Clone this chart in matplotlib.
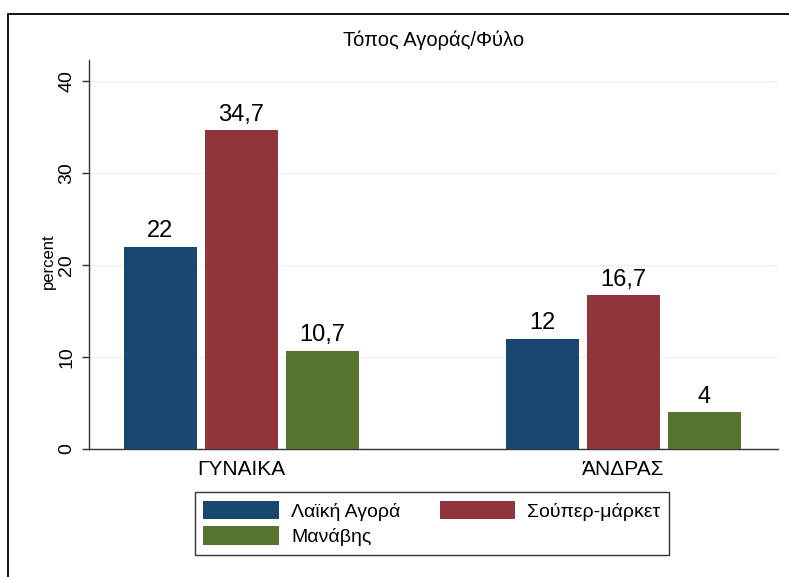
import matplotlib.pyplot as plt
from matplotlib.patches import Rectangle
import numpy as np

plt.rcParams['font.family'] = ['Liberation Sans', 'DejaVu Sans']

groups = ['ΓΥΝΑΙΚΑ', 'ΆΝΔΡΑΣ']
series = ['Λαϊκή Αγορά', 'Σούπερ-μάρκετ', 'Μανάβης']
values = [[22, 12], [34.7, 16.7], [10.7, 4]]
colors = ['#1a476f', '#90353b', '#55752f']
yticks = [0, 10, 20, 30, 40]

fig = plt.figure(figsize=(7.89, 5.77), dpi=100)
ax = fig.add_axes([89 / 789, 1 - 449 / 577, (778 - 89) / 789, (449 - 60) / 577])

# outer frame like stata graph region
fig.patches.append(Rectangle((8 / 789, -0.5), 2, 1.5 - 14 / 577, transform=fig.transFigure,
                             fill=False, edgecolor='black', linewidth=1.3))

x = np.arange(len(groups))
pitch = 81 / 382
width = 73 / 382
handles = []
for i, (name, vals) in enumerate(zip(series, values)):
    pos = x + (i - 1) * pitch
    h = ax.bar(pos, vals, width=width, color=colors[i], label=name, zorder=3)
    handles.append(h)
    for p, v in zip(pos, vals):
        lab = f'{v:g}'.replace('.', ',')
        ax.annotate(lab, (p, v), xytext=(0, 3), textcoords='offset points',
                    ha='center', va='bottom', fontsize=17)

ax.set_xlim((89 - 241.5) / 382, (778 - 241.5) / 382)
ax.set_ylim(0, (449 - 60) / 9.2)
ax.set_yticks(yticks)
ax.set_yticklabels([str(t) for t in yticks], rotation=90, va='center', fontsize=14)
ax.set_xticks(x)
ax.set_xticklabels(groups, fontsize=15)
ax.tick_params(axis='x', length=0, pad=8)
ax.tick_params(axis='y', length=5, width=1, color='#333333', pad=5)
ax.grid(axis='y', color='#eaf2f3', linewidth=1, zorder=0)
for s in ['top', 'right']:
    ax.spines[s].set_visible(False)
for s in ['left', 'bottom']:
    ax.spines[s].set_color('#333333')
    ax.spines[s].set_linewidth(1)
ax.set_ylabel('percent', fontsize=12)
ax.yaxis.set_label_coords(-0.048, 0.483)
ax.set_title('Τόπος Αγοράς/Φύλο', fontsize=14.5, pad=10)

# legend filled row by row as in the reference
order = [0, 2, 1]
leg = fig.legend([handles[k] for k in order], [series[k] for k in order],
                 loc='upper center', bbox_to_anchor=(432 / 789, 1 - 492 / 577), ncol=2,
                 fontsize=14, handlelength=3.9, handleheight=1.08, columnspacing=2.0,
                 handletextpad=0.62, labelspacing=0.3, borderpad=0.45, borderaxespad=0,
                 fancybox=False)
leg.get_frame().set_edgecolor('black')
leg.get_frame().set_linewidth(1)

fig.savefig('out.png', dpi=100, facecolor='white')
